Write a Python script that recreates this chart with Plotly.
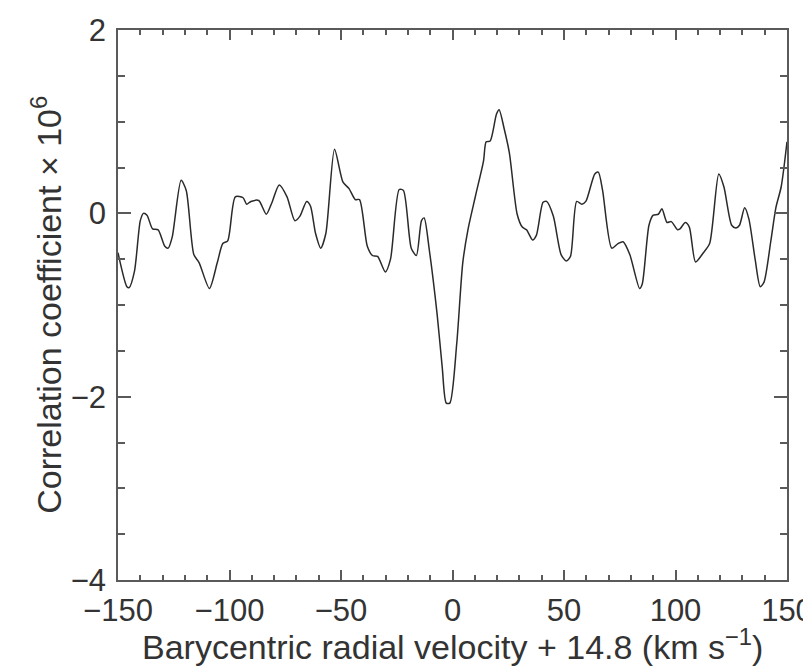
import plotly.graph_objects as go

velocity = [-150, -146, -145, -142.6, -140, -138.6, -137, -134.5, -132, -129, -127.5, -125.7,
            -121.7, -119.4, -116, -113.6, -109, -105.5, -103, -100.8, -97.4, -93.9, -92.3,
            -90.4, -86.9, -83.5, -81.1, -77.7, -74.2, -70.7, -68.4, -65.4, -63.7, -61.4,
            -59.1, -56.8, -52.9, -49.1, -46.4, -43.6, -41.7, -38.2, -35.9, -33.6, -30.1,
            -27.8, -23.9, -22, -18.5, -16.2, -13.9, -12.7, -10.4, -6.9, -4.6, -2.8, -1.2,
            1.9, 4.6, 7.0, 10.4, 13.9, 15.1, 16.9, 19.7, 20.9, 23.2, 25.5, 29.0, 31.3, 33.2,
            35.9, 37.6, 40.6, 42.2, 45.2, 48.7, 51.0, 52.9, 55.7, 58, 59.8, 63.8, 65.4, 67.3,
            71.4, 74.2, 76.5, 79.5, 83.9, 85.1, 88.1, 90, 92.3, 93.9, 96.2, 98.1, 100.9, 102,
            104.4, 106.2, 109, 112.5, 115.3, 119.4, 121.7, 125.2, 127.1, 128.7, 131.0, 132.9,
            135.7, 138, 139.7, 142.7, 145, 147.4, 150]
correlation = [-0.43, -0.80, -0.81, -0.63, -0.08, 0.0, -0.02, -0.17, -0.18, -0.36, -0.38, -0.26,
               0.36, 0.25, -0.45, -0.54, -0.82, -0.54, -0.33, -0.30, 0.18, 0.17, 0.10,
               0.13, 0.14, -0.01, 0.11, 0.31, 0.18, -0.08, -0.03, 0.13, 0.08, -0.22,
               -0.38, -0.22, 0.70, 0.34, 0.27, 0.15, 0.15, -0.36, -0.46, -0.47, -0.64,
               -0.50, 0.26, 0.25, -0.38, -0.46, -0.08, -0.05, -0.40, -1.10, -1.68, -2.07, -2.07,
               -1.42, -0.54, -0.17, 0.20, 0.57, 0.78, 0.79, 1.08, 1.13, 0.92, 0.66, -0.01, -0.15, -0.18,
               -0.29, -0.24, 0.12, 0.13, -0.03, -0.45, -0.52, -0.47, 0.13, 0.10, 0.13, 0.43, 0.45, 0.25,
               -0.38, -0.33, -0.31, -0.45, -0.82, -0.77, -0.13, -0.02, -0.01, 0.05, -0.10, -0.09, -0.18, -0.17,
               -0.10, -0.15, -0.53, -0.43, -0.33, 0.43, 0.29, -0.13, -0.16, -0.13, 0.06, -0.06,
               -0.50, -0.80, -0.75, -0.31, 0.06, 0.29, 0.78]

x_ticks = [-150, -100, -50, 0, 50, 100, 150]
x_labels = ["\u2212150", "\u2212100", "\u221250", "0", "50", "100", "150"]
y_ticks = [-4, -2, 0, 2]
y_labels = ["\u22124", "\u22122", "0", "2"]
x_title = "Barycentric radial velocity + 14.8 (km s<sup>\u22121</sup>)"
y_title = "Correlation coefficient \u00d7 10<sup>6</sup>"

FONT = "Liberation Sans, Arial, Helvetica, sans-serif"
AXIS_COLOR = "#5a5a5a"
TEXT_COLOR = "#333333"

fig = go.Figure()
fig.add_trace(go.Scatter(
    x=velocity, y=correlation, mode="lines",
    line=dict(color="#2a2a2a", width=1.5, shape="spline", smoothing=0.7),
    showlegend=False, hoverinfo="skip"))

fig.update_layout(
    width=811, height=667,
    margin=dict(l=110, r=32, t=22, b=95),
    paper_bgcolor="white", plot_bgcolor="white",
    font=dict(family=FONT, size=31, color=TEXT_COLOR),
)
fig.update_xaxes(
    range=[-150, 150], tickmode="array", tickvals=x_ticks, ticktext=x_labels,
    automargin=False,
    showgrid=False, zeroline=False, showline=True, linecolor=AXIS_COLOR, linewidth=1.5,
    mirror="ticks", ticks="inside", ticklen=10, tickwidth=1.5, tickcolor=AXIS_COLOR,
    minor=dict(dtick=10, tick0=0, ticks="inside", ticklen=5, tickwidth=1.5, tickcolor=AXIS_COLOR, showgrid=False),
    tickfont=dict(size=31), ticklabelstandoff=2,
)
fig.update_yaxes(
    range=[-4, 2], tickmode="array", tickvals=y_ticks, ticktext=y_labels,
    automargin=False,
    showgrid=False, zeroline=False, showline=True, linecolor=AXIS_COLOR, linewidth=1.5,
    mirror="ticks", ticks="inside", ticklen=13, tickwidth=1.5, tickcolor=AXIS_COLOR,
    minor=dict(dtick=0.5, tick0=0, ticks="inside", ticklen=7, tickwidth=1.5, tickcolor=AXIS_COLOR, showgrid=False),
    tickfont=dict(size=31), ticklabelstandoff=4,
)

# axis titles as paper-positioned annotations for precise placement
fig.add_annotation(text=x_title, xref="paper", yref="paper", x=0.5, y=-0.118,
                   xanchor="center", yanchor="middle", showarrow=False,
                   font=dict(family=FONT, size=34, color=TEXT_COLOR))
fig.add_annotation(text=y_title, xref="paper", yref="paper", x=-0.108, y=0.5,
                   xanchor="center", yanchor="middle", showarrow=False, textangle=-90,
                   font=dict(family=FONT, size=34, color=TEXT_COLOR))

fig.write_html("out.html")
